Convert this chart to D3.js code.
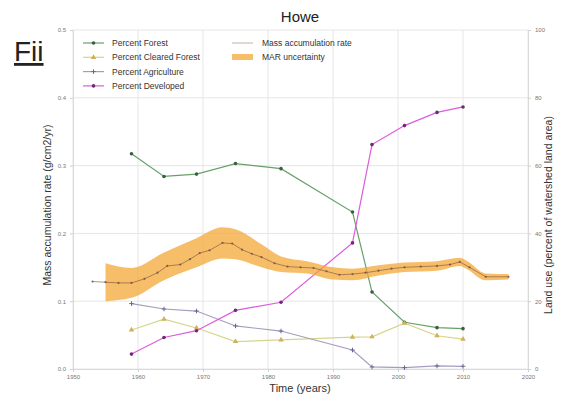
<!DOCTYPE html>
<html>
<head>
<meta charset="utf-8">
<script src="https://cdn.jsdelivr.net/npm/d3@7"></script>
<style>
  html, body { margin: 0; padding: 0; background: #fff; }
  svg { display: block; font-family: "Liberation Sans", Arial, sans-serif; }
</style>
</head>
<body>
<svg id="chart" width="561" height="400"></svg>
<script>
// Land-use survey years and percentages (right axis)
const landYears   = [1959, 1964, 1969, 1975, 1982, 1993, 1996, 2001, 2006, 2010];
const forest      = [63.5, 56.8, 57.5, 60.6, 59.1, 46.3, 22.7, 13.8, 12.2, 11.9];
const cleared     = [11.5, 14.7, 12.1, 8.1, 8.6, 9.4, 9.5, 13.5, 9.8, 8.8];
const agriculture = [19.3, 17.7, 17.1, 12.7, 11.2, 5.6, 0.6, 0.4, 0.9, 0.8];
const developed   = [4.4, 9.3, 11.3, 17.3, 19.7, 37.2, 66.2, 71.8, 75.7, 77.3];

// Mass accumulation rate (left axis, g/cm2/yr)
const marYears  = [1953, 1955, 1957, 1959, 1961, 1963, 1964.5, 1966.5, 1968, 1969.5, 1971, 1973, 1974.5, 1976, 1977.5, 1979, 1981, 1983, 1985, 1987, 1989, 1991, 1993, 1995, 1997, 1999, 2001, 2003.5, 2006, 2008, 2009.5, 2011, 2013.5, 2017];
const marValues = [0.129, 0.128, 0.127, 0.127, 0.133, 0.142, 0.152, 0.154, 0.162, 0.171, 0.175, 0.186, 0.185, 0.176, 0.170, 0.165, 0.156, 0.151, 0.150, 0.149, 0.144, 0.139, 0.140, 0.142, 0.145, 0.148, 0.150, 0.151, 0.152, 0.154, 0.158, 0.150, 0.136, 0.136];

// MAR uncertainty envelope
const bandYears = [1955, 1959, 1964, 1969, 1973, 1975, 1979, 1982, 1986, 1990, 1993, 1997, 2001, 2006, 2009.5, 2010.5, 2013.5, 2017];
const bandLow   = [0.100, 0.105, 0.131, 0.150, 0.163, 0.162, 0.150, 0.143, 0.141, 0.132, 0.131, 0.138, 0.143, 0.145, 0.152, 0.148, 0.131, 0.132];
const bandHigh  = [0.156, 0.149, 0.172, 0.193, 0.209, 0.206, 0.184, 0.166, 0.159, 0.150, 0.148, 0.153, 0.157, 0.159, 0.164, 0.160, 0.141, 0.140];

// Tick values
const xTicks      = [1950, 1960, 1970, 1980, 1990, 2000, 2010, 2020];
const leftTicks   = [0.0, 0.1, 0.2, 0.3, 0.4, 0.5];
const rightTicks  = [0, 20, 40, 60, 80, 100];

const svg = d3.select("#chart");
const plot = { left: 73, right: 528, top: 30, bottom: 369 };

const x  = d3.scaleLinear().domain([1950, 2020]).range([plot.left, plot.right]);
const yL = d3.scaleLinear().domain([0, 0.5]).range([plot.bottom, plot.top]);
const yR = d3.scaleLinear().domain([0, 100]).range([plot.bottom, plot.top]);

// grid
const grid = svg.append("g");
grid.selectAll("line.v").data(xTicks).join("line")
  .attr("x1", d => x(d)).attr("x2", d => x(d))
  .attr("y1", plot.top).attr("y2", plot.bottom)
  .attr("stroke", "#e6e6e6").attr("stroke-width", 1);
grid.selectAll("line.h").data(leftTicks).join("line")
  .attr("x1", plot.left).attr("x2", plot.right)
  .attr("y1", d => yL(d)).attr("y2", d => yL(d))
  .attr("stroke", "#e6e6e6").attr("stroke-width", 1);

// axes
function styleAxis(g) {
  g.select(".domain").attr("stroke", "#dadada");
  g.selectAll(".tick line").attr("stroke", "#d0d0d0");
  g.selectAll(".tick text").attr("fill", "#777").attr("font-size", 6);
}
svg.append("g").attr("transform", `translate(0,${plot.bottom})`)
  .call(d3.axisBottom(x).tickValues(xTicks).tickFormat(d3.format("d")).tickSize(3).tickPadding(3))
  .call(styleAxis);
svg.append("g").attr("transform", `translate(${plot.left},0)`)
  .call(d3.axisLeft(yL).tickValues(leftTicks).tickFormat(d3.format(".1f")).tickSize(3).tickPadding(4))
  .call(styleAxis);
svg.append("g").attr("transform", `translate(${plot.right},0)`)
  .call(d3.axisRight(yR).tickValues(rightTicks).tickFormat(d3.format("d")).tickSize(3).tickPadding(4))
  .call(styleAxis);

// land-use series
const landSeries = [
  { name: "Percent Forest",         values: forest,      line: "#68a068", mark: "#3a5f40", shape: "circle" },
  { name: "Percent Cleared Forest", values: cleared,     line: "#d4d68c", mark: "#d2b05a", shape: "triangle" },
  { name: "Percent Agriculture",    values: agriculture, line: "#a79cbf", mark: "#6f6690", shape: "plus" },
  { name: "Percent Developed",      values: developed,   line: "#dc5cdc", mark: "#6e2a70", shape: "circle" }
];

function drawMarker(g, shape, cx, cy, color, size) {
  if (shape === "circle") {
    g.append("circle").attr("cx", cx).attr("cy", cy).attr("r", size).attr("fill", color);
  } else if (shape === "triangle") {
    g.append("path").attr("d", d3.symbol(d3.symbolTriangle, size * size * 4)())
      .attr("transform", `translate(${cx},${cy})`).attr("fill", color);
  } else {
    g.append("path").attr("d", `M${cx - size - 0.5},${cy}H${cx + size + 0.5}M${cx},${cy - size - 0.5}V${cy + size + 0.5}`)
      .attr("stroke", color).attr("stroke-width", 1);
  }
}

const lineGen = d3.line().x(d => x(d[0])).y(d => yR(d[1]));
landSeries.forEach(s => {
  const pts = landYears.map((yr, i) => [yr, s.values[i]]);
  const g = svg.append("g");
  g.append("path").datum(pts).attr("d", lineGen)
    .attr("fill", "none").attr("stroke", s.line).attr("stroke-width", 1.2);
  pts.forEach(p => drawMarker(g, s.shape, x(p[0]), yR(p[1]), s.mark, 1.8));
});

// MAR uncertainty band
const band = bandYears.map((yr, i) => [yr, bandLow[i], bandHigh[i]]);
svg.append("path").datum(band)
  .attr("d", d3.area().curve(d3.curveMonotoneX)
    .x(d => x(d[0])).y0(d => yL(d[1])).y1(d => yL(d[2])))
  .attr("fill", "#f4a530").attr("fill-opacity", 0.72);

// MAR line
const mar = marYears.map((yr, i) => [yr, marValues[i]]);
const marG = svg.append("g");
marG.append("path").datum(mar)
  .attr("d", d3.line().x(d => x(d[0])).y(d => yL(d[1])))
  .attr("fill", "none").attr("stroke", "#7a4f3c").attr("stroke-opacity", 0.6).attr("stroke-width", 1);
marG.selectAll("circle").data(mar).join("circle")
  .attr("cx", d => x(d[0])).attr("cy", d => yL(d[1])).attr("r", 1.1)
  .attr("fill", "#6a4535").attr("fill-opacity", 0.75);

// legend
const legend = svg.append("g").attr("font-size", 8.5).attr("fill", "#333");
landSeries.forEach((s, i) => {
  const yy = 43 + i * 14.3;
  legend.append("line").attr("x1", 83).attr("x2", 104).attr("y1", yy).attr("y2", yy)
    .attr("stroke", s.line).attr("stroke-width", 1.2);
  drawMarker(legend, s.shape, 93.5, yy, s.mark, 1.8);
  legend.append("text").attr("x", 112).attr("y", yy + 3).text(s.name);
});
legend.append("line").attr("x1", 232).attr("x2", 253).attr("y1", 43).attr("y2", 43)
  .attr("stroke", "#7a4f3c").attr("stroke-opacity", 0.45).attr("stroke-width", 1);
legend.append("text").attr("x", 262).attr("y", 46).text("Mass accumulation rate");
legend.append("rect").attr("x", 232).attr("y", 54).attr("width", 21).attr("height", 6)
  .attr("fill", "#f4a530").attr("fill-opacity", 0.72);
legend.append("text").attr("x", 262).attr("y", 60).text("MAR uncertainty");

// titles
svg.append("text").attr("x", 300).attr("y", 22).attr("text-anchor", "middle")
  .attr("font-size", 15).attr("fill", "#222").text("Howe");
svg.append("text").attr("x", 14).attr("y", 61)
  .attr("font-size", 28).attr("fill", "#222").attr("text-decoration", "underline").text("Fii");
svg.append("text").attr("x", 300).attr("y", 392).attr("text-anchor", "middle")
  .attr("font-size", 11).attr("fill", "#333").text("Time (years)");
svg.append("text").attr("transform", "translate(51,205) rotate(-90)").attr("text-anchor", "middle")
  .attr("font-size", 10.5).attr("fill", "#333").text("Mass accumulation rate (g/cm2/yr)");
svg.append("text").attr("transform", "translate(552,215) rotate(-90)").attr("text-anchor", "middle")
  .attr("font-size", 10.5).attr("fill", "#333").text("Land use (percent of watershed land area)");
</script>
</body>
</html>
